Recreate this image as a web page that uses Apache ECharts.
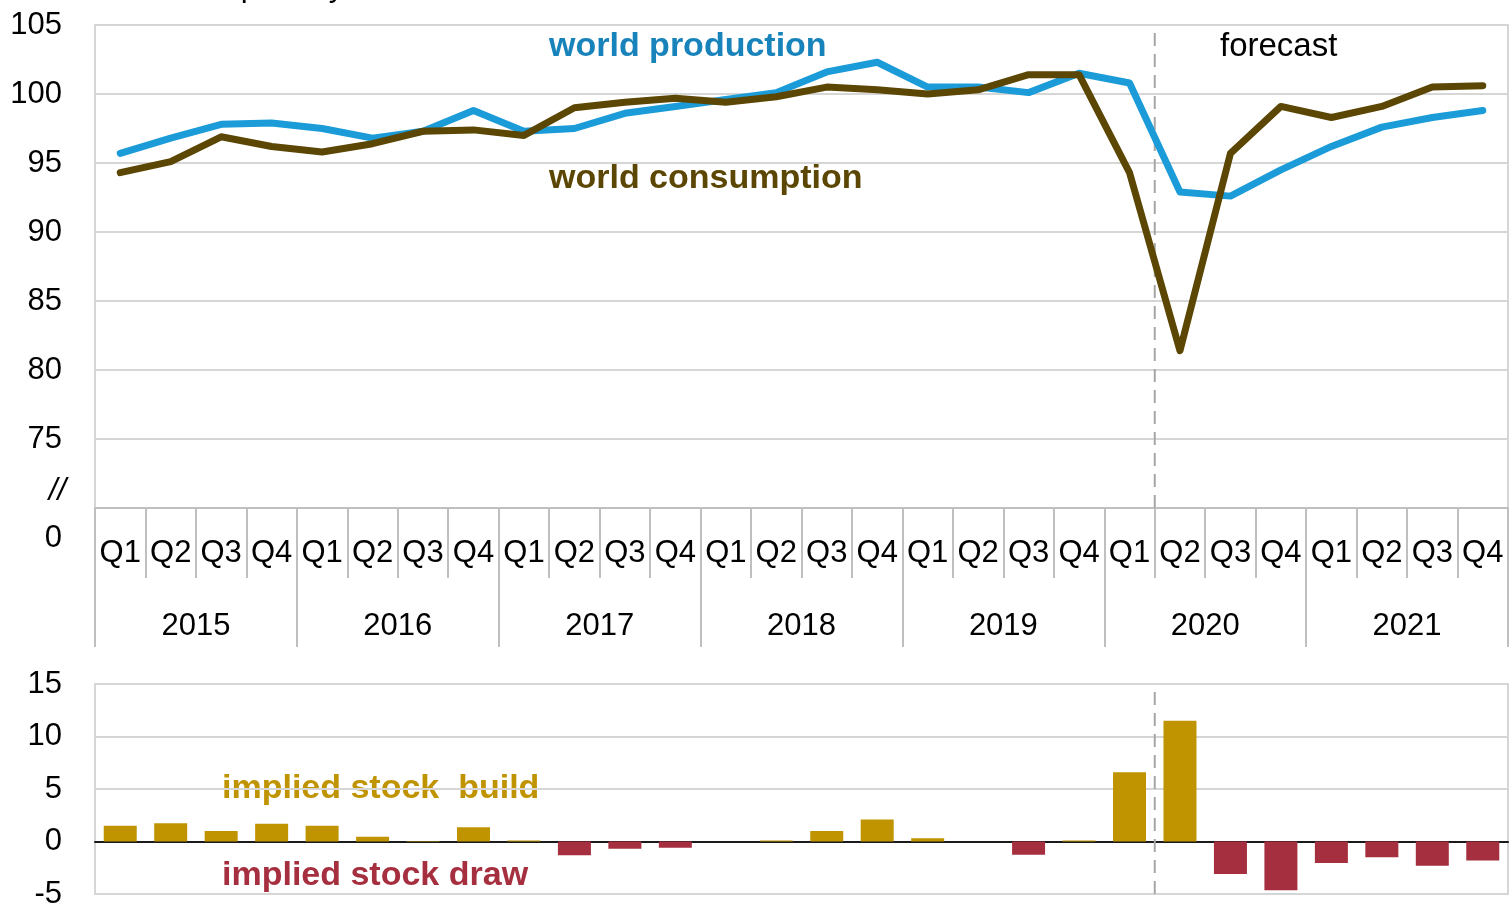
<!DOCTYPE html>
<html>
<head>
<meta charset="utf-8">
<script src="https://cdn.jsdelivr.net/npm/echarts@6/dist/echarts.min.js"></script>
<style>
html,body{margin:0;padding:0;background:#fff;}
#chart{width:1510px;height:908px;}
</style>
</head>
<body>
<div id="chart"></div>
<script>
// ---- data ----
const quarterLabels = ['Q1','Q2','Q3','Q4','Q1','Q2','Q3','Q4','Q1','Q2','Q3','Q4','Q1','Q2','Q3','Q4',
                       'Q1','Q2','Q3','Q4','Q1','Q2','Q3','Q4','Q1','Q2','Q3','Q4'];
const yearLabels = ['2015','2016','2017','2018','2019','2020','2021'];
const worldProduction = [95.7, 96.8, 97.8, 97.9, 97.5, 96.8, 97.3, 98.8, 97.3, 97.5, 98.6, 99.1, 99.6, 100.1,
                         101.6, 102.3, 100.5, 100.5, 100.1, 101.5, 100.8, 92.9, 92.6, 94.5, 96.2, 97.6, 98.3, 98.8];
const worldConsumption = [94.3, 95.1, 96.9, 96.2, 95.8, 96.4, 97.3, 97.4, 97.0, 99.0, 99.4, 99.7, 99.4, 99.8,
                          100.5, 100.3, 100.0, 100.3, 101.4, 101.4, 94.3, 81.4, 95.7, 99.1, 98.3, 99.1, 100.5, 100.6];
const impliedStockChange = [1.5, 1.75, 1.0, 1.7, 1.5, 0.45, 0.05, 1.35, 0.1, -1.3, -0.7, -0.6, 0.0, 0.1,
                            1.0, 2.1, 0.3, 0.0, -1.25, 0.1, 6.6, 11.5, -3.1, -4.65, -2.05, -1.5, -2.3, -1.8];
const forecastStart = 21; // boundary between 2020 Q1 and 2020 Q2 (category index units)
const topAxisTicks = [70, 105, 5];
const bottomAxisTicks = [-5, 15, 5];

// ---- styles ----
const FONT = '"Liberation Sans", Arial, sans-serif';
const GRID_COLOR = '#d6d6d6';
const C_PROD = '#1b9bd8';
const C_PROD_TXT = '#1783ba';
const C_CONS = '#5c4604';
const C_BUILD = '#c09400';
const C_DRAW = '#a52f3f';

const chart = echarts.init(document.getElementById('chart'), null, {renderer: 'canvas'});

const option = {
  backgroundColor: '#ffffff',
  animation: false,
  grid: [
    {left: 95, right: 2, top: 25, height: 483, show: true, borderColor: GRID_COLOR, borderWidth: 2,
     containLabel: false, outerBoundsMode: 'none'},
    {left: 95, right: 2, top: 684, height: 210, show: true, borderColor: GRID_COLOR, borderWidth: 2,
     containLabel: false, outerBoundsMode: 'none'}
  ],
  xAxis: [
    { // quarters
      type: 'category', gridIndex: 0, data: quarterLabels, boundaryGap: true, position: 'bottom',
      axisLine: {show: true, lineStyle: {color: '#bfbfbf', width: 2}},
      axisTick: {show: true, length: 70, interval: 0, lineStyle: {color: '#bfbfbf', width: 2}},
      axisLabel: {interval: 0, margin: 30, color: '#000', fontSize: 31, fontFamily: FONT},
      splitLine: {show: false}
    },
    { // years
      type: 'category', gridIndex: 0, data: yearLabels, boundaryGap: true, position: 'bottom',
      axisLine: {show: false},
      axisTick: {show: true, length: 139, interval: 0, lineStyle: {color: '#bfbfbf', width: 2}},
      axisLabel: {interval: 0, margin: 103, color: '#000', fontSize: 31, fontFamily: FONT},
      splitLine: {show: false}
    },
    { // hidden value axis for forecast divider (top)
      type: 'value', gridIndex: 0, min: 0, max: quarterLabels.length, show: false
    },
    { // bottom category
      type: 'category', gridIndex: 1, data: quarterLabels, boundaryGap: true,
      axisLine: {show: true, onZero: true, lineStyle: {color: '#1a1a1a', width: 2}},
      axisTick: {show: false}, axisLabel: {show: false}, splitLine: {show: false}
    },
    { // hidden value axis for forecast divider (bottom)
      type: 'value', gridIndex: 1, min: 0, max: quarterLabels.length, show: false
    }
  ],
  yAxis: [
    {
      type: 'value', gridIndex: 0, min: topAxisTicks[0], max: topAxisTicks[1], interval: topAxisTicks[2],
      axisLine: {show: false}, axisTick: {show: false},
      axisLabel: {margin: 33, color: '#000', fontSize: 31, fontFamily: FONT,
                  formatter: v => (v === topAxisTicks[0] ? '' : String(v))},
      splitLine: {show: true, lineStyle: {color: GRID_COLOR, width: 2}}
    },
    {
      type: 'value', gridIndex: 1, min: bottomAxisTicks[0], max: bottomAxisTicks[1], interval: bottomAxisTicks[2],
      axisLine: {show: false}, axisTick: {show: false},
      axisLabel: {margin: 33, color: '#000', fontSize: 31, fontFamily: FONT},
      splitLine: {show: true, lineStyle: {color: GRID_COLOR, width: 2}}
    }
  ],
  series: [
    {
      name: 'world production', type: 'line', xAxisIndex: 0, yAxisIndex: 0,
      data: worldProduction, symbol: 'none', smooth: false,
      lineStyle: {color: C_PROD, width: 7, join: 'round', cap: 'round'}, z: 3
    },
    {
      name: 'world consumption', type: 'line', xAxisIndex: 0, yAxisIndex: 0,
      data: worldConsumption, symbol: 'none', smooth: false,
      lineStyle: {color: C_CONS, width: 7, join: 'round', cap: 'round'}, z: 4
    },
    {
      name: 'forecast divider top', type: 'line', xAxisIndex: 2, yAxisIndex: 0,
      data: [[forecastStart, topAxisTicks[0]], [forecastStart, topAxisTicks[1]]],
      symbol: 'none', lineStyle: {color: '#a6a6a6', width: 2, type: [13, 8]}, z: 2, silent: true
    },
    {
      name: 'implied stock change', type: 'bar', xAxisIndex: 3, yAxisIndex: 1,
      data: impliedStockChange, barWidth: 33,
      itemStyle: {color: p => (p.value >= 0 ? C_BUILD : C_DRAW)}, z: 2
    },
    {
      name: 'forecast divider bottom', type: 'line', xAxisIndex: 4, yAxisIndex: 1,
      data: [[forecastStart, bottomAxisTicks[0]], [forecastStart, bottomAxisTicks[1]]],
      symbol: 'none', lineStyle: {color: '#a6a6a6', width: 2, type: [13, 8]}, z: 3, silent: true
    }
  ],
  graphic: [
    {type: 'text', x: 41, y: 3, style: {text: 'million barrels per day', fill: '#000',
      font: '31px ' + FONT, verticalAlign: 'bottom', align: 'left'}},
    {type: 'text', x: 66, y: 491, style: {text: '//', fill: '#000',
      font: 'italic 31px ' + FONT, verticalAlign: 'middle', align: 'right'}},
    {type: 'text', x: 62, y: 538, style: {text: '0', fill: '#000',
      font: '31px ' + FONT, verticalAlign: 'middle', align: 'right'}},
    {type: 'text', x: 549, y: 47, style: {text: 'world production', fill: C_PROD_TXT,
      font: 'bold 34px ' + FONT, verticalAlign: 'middle', align: 'left'}},
    {type: 'text', x: 549, y: 179, style: {text: 'world consumption', fill: C_CONS,
      font: 'bold 34px ' + FONT, verticalAlign: 'middle', align: 'left'}},
    {type: 'text', x: 1220, y: 47, style: {text: 'forecast', fill: '#000',
      font: '33px ' + FONT, verticalAlign: 'middle', align: 'left'}},
    {type: 'text', x: 222, y: 789, style: {text: 'implied stock  build', fill: C_BUILD,
      font: 'bold 34px ' + FONT, verticalAlign: 'middle', align: 'left'}},
    {type: 'text', x: 222, y: 876, style: {text: 'implied stock draw', fill: C_DRAW,
      font: 'bold 34px ' + FONT, verticalAlign: 'middle', align: 'left'}}
  ]
};
chart.setOption(option);
</script>
</body>
</html>
